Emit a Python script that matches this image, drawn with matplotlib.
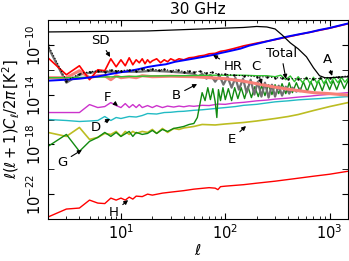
import numpy as np
import matplotlib
matplotlib.use("Agg")
import matplotlib.pyplot as plt
from matplotlib.ticker import FixedLocator, NullFormatter, LogFormatterMathtext, LogLocator

# multipoles and log10 of l(l+1)C_l/2pi [K^2]
cmb_ell = [2, 6, 18, 60, 150, 200, 250, 300, 350, 420, 500, 600, 700, 800, 900, 1000, 1500]
cmb_log = [-8.96, -8.92, -8.88, -8.72, -8.6, -8.52, -8.56, -8.72, -9.2, -9.84, -10.32,
           -10.96, -11.84, -12.48, -12.64, -12.64, -12.56]

hr_ell = [2, 3, 4, 5, 6, 8, 10, 12, 15, 18, 22, 27, 33, 40, 50, 60, 75, 90, 110, 140,
          170, 200, 250, 300, 400, 500, 650, 800, 1000, 1250, 1500]
hr_log = [-12.88, -12.8, -12.72, -12.62, -12.54, -12.34, -12.2, -12.1, -11.94, -11.78,
          -11.66, -11.56, -11.36, -11.24, -11.1, -10.98, -10.82, -10.66, -10.5, -10.3,
          -10.06, -9.92, -9.72, -9.56, -9.32, -9.16, -8.98, -8.8, -8.64, -8.44, -8.28]

sd_ell = [2, 3, 4, 5, 6, 7, 8, 9, 10, 11, 12, 13, 14, 15, 16, 17, 18, 19, 20, 22, 24, 26,
          28, 30, 33, 36, 40, 45, 50, 56, 63, 70, 80, 90, 100, 120, 150, 200, 300, 500,
          1000, 1500]
sd_log = [-11.04, -12.4, -11.68, -12.8, -12.0, -12.08, -11.12, -11.76, -11.2, -11.68,
          -11.04, -11.6, -11.2, -11.44, -11.12, -11.52, -11.2, -11.44, -11.28, -11.12,
          -11.44, -11.2, -11.36, -11.12, -11.28, -11.12, -11.2, -11.04, -11.0, -10.9,
          -10.84, -10.72, -10.68, -10.52, -10.46, -10.3, -10.08, -9.86, -9.58, -9.18,
          -8.66, -8.3]

total_ell = [2, 3, 4, 5, 6, 7, 8, 9, 10, 12, 14, 16, 18, 20, 23, 26, 30, 35, 40, 45, 50,
             57, 65, 75, 85, 100, 120, 150, 200, 250, 300, 350, 400, 500, 600, 700, 800,
             1000, 1200, 1500]
total_log = [-10.0, -12.88, -12.32, -12.16, -12.08, -12.16, -12.0, -12.08, -12.08, -12.0,
             -12.08, -11.92, -12.0, -11.92, -12.04, -11.96, -12.08, -12.0, -12.16, -12.08,
             -12.2, -12.12, -12.28, -12.2, -12.36, -12.36, -12.44, -12.48, -12.56, -12.58,
             -12.64, -12.66, -12.72, -12.72, -12.7, -12.72, -12.7, -12.64, -12.58, -12.5]

c_ell = [2, 3, 5, 10, 20, 40, 70, 100, 150, 200, 250, 300, 340, 380, 420, 460, 500, 550,
         600, 650, 700, 760, 820, 880, 950, 1020, 1100, 1200, 1300, 1400, 1500]
c_log = [-12.64, -12.64, -12.6, -12.56, -12.5, -12.48, -12.44, -12.44, -12.44, -12.48,
         -12.48, -12.56, -12.44, -12.8, -12.5, -12.96, -12.56, -13.04, -12.6, -13.12,
         -12.6, -13.12, -12.62, -13.12, -12.62, -13.1, -12.6, -13.04, -12.6, -13.0, -12.7]

a_ell = [2, 3, 4, 5, 6, 7, 8, 9, 10, 12, 14, 16, 20, 30, 50, 100, 150, 200, 300, 400,
         500, 700, 1000, 1500]
a_log = [-12.64, -12.64, -12.08, -12.64, -12.48, -12.48, -12.8, -12.48, -12.64, -12.56,
         -12.64, -12.48, -12.56, -12.52, -12.56, -12.72, -12.92, -13.12, -13.4, -13.56,
         -13.68, -13.84, -13.92, -14.04]

b_ell = [2, 3, 4, 5, 6, 8, 10, 15, 20, 30, 40, 50, 55, 60, 66, 72, 80, 88, 96, 105, 115,
         125, 135, 148, 160, 175, 190, 205, 222, 240, 260, 280, 300, 325, 350, 380, 410,
         440, 480, 520]
b_log = [-10.16, -13.04, -12.4, -12.24, -12.16, -12.16, -12.16, -12.16, -12.08, -12.16,
         -12.24, -12.32, -12.56, -12.32, -12.72, -12.4, -12.96, -12.48, -13.2, -12.56,
         -13.44, -12.64, -13.6, -12.72, -13.84, -12.8, -14.0, -12.96, -14.16, -13.04,
         -14.24, -13.2, -14.16, -13.28, -14.08, -13.36, -13.92, -13.44, -13.76, -13.52]

g_ell = [2, 3, 4, 5, 6, 7, 8, 9, 10, 12, 13, 14, 16, 18, 20, 22, 25, 28, 32, 36, 40, 45,
         50, 54, 57, 60, 64, 68, 72, 76, 80, 83, 86, 90, 95, 100, 107, 115, 123, 132, 142,
         153, 165, 178, 192, 207, 223, 240, 260, 280, 300, 325, 350, 380, 410, 440, 480,
         520, 560, 610, 660, 720, 780, 850, 920, 1000, 1080, 1170, 1270, 1380, 1500]
g_log = [-18.16, -17.2, -18.56, -17.76, -17.44, -17.04, -17.36, -17.04, -17.36, -16.96,
         -17.36, -17.04, -17.2, -17.12, -16.88, -17.12, -16.8, -16.96, -16.72, -16.64,
         -16.56, -16.4, -16.32, -15.84, -14.8, -13.84, -14.48, -13.44, -14.4, -13.52,
         -14.56, -15.84, -13.6, -14.48, -13.44, -14.4, -13.52, -14.48, -13.44, -14.32,
         -13.44, -14.32, -13.36, -14.24, -13.36, -14.16, -13.28, -14.08, -13.2, -14.0,
         -13.2, -13.92, -13.12, -13.92, -13.04, -13.84, -13.04, -13.76, -12.96, -13.76,
         -12.96, -13.68, -12.88, -13.68, -12.88, -13.6, -12.88, -13.6, -12.8, -13.52,
         -12.88]

f_ell = [2, 3, 4, 5, 6, 7, 8, 9, 10, 11, 12, 13, 14, 15, 16, 18, 20, 22, 25, 28, 32, 36,
         40, 45, 50, 60, 70, 85, 100, 120, 150, 200, 250, 300, 400, 500, 650, 800, 1000,
         1250, 1500]
f_log = [-15.44, -15.44, -15.44, -14.8, -15.04, -14.96, -14.64, -14.88, -15.04, -14.72,
         -15.04, -14.8, -15.04, -14.8, -15.04, -14.88, -15.04, -14.88, -15.04, -14.92,
         -15.0, -14.92, -14.98, -14.9, -14.94, -14.86, -14.88, -14.76, -14.78, -14.68,
         -14.62, -14.5, -14.44, -14.36, -14.28, -14.2, -14.12, -14.04, -13.98, -13.9,
         -13.84]

d_ell = [2, 3, 4, 5, 6, 7, 8, 9, 10, 12, 14, 16, 18, 22, 26, 30, 35, 40, 50, 60, 75, 100,
         125, 150, 200, 300, 400, 500, 650, 800, 1000, 1250, 1500]
d_log = [-16.0, -16.08, -16.16, -16.12, -16.08, -15.76, -16.08, -15.84, -15.92, -15.76,
         -15.8, -15.68, -15.52, -15.56, -15.44, -15.42, -15.36, -15.34, -15.26, -15.22,
         -15.14, -15.04, -14.96, -14.86, -14.78, -14.58, -14.5, -14.42, -14.36, -14.32,
         -14.26, -14.2, -14.16]

e_ell = [2, 3, 4, 5, 6, 7, 8, 9, 10, 11, 12, 13, 14, 16, 18, 20, 22, 25, 28, 32, 36, 40,
         50, 60, 80, 100, 150, 200, 300, 400, 500, 700, 1000, 1500]
e_log = [-17.04, -17.36, -16.64, -17.6, -17.44, -17.12, -17.2, -16.96, -17.36, -16.96,
         -17.2, -16.96, -17.12, -16.96, -17.04, -16.8, -17.12, -16.72, -17.04, -16.72,
         -16.8, -16.68, -16.56, -16.4, -16.44, -16.36, -16.24, -16.12, -15.92, -15.76,
         -15.6, -15.28, -14.96, -14.64]

h_ell = [2, 3, 4, 5, 6, 7, 8, 9, 10, 11, 12, 13, 14, 16, 18, 20, 25, 30, 40, 50, 70, 80,
         85, 90, 100, 150, 200, 300, 500, 700, 1000, 1500]
h_log = [-23.84, -23.2, -23.12, -22.48, -22.72, -22.76, -22.32, -22.48, -22.32, -22.48,
         -22.24, -22.4, -22.16, -22.2, -22.0, -22.08, -21.92, -21.84, -21.72, -21.6,
         -21.48, -21.52, -21.64, -21.4, -21.36, -21.24, -21.12, -20.96, -20.72, -20.56,
         -20.4, -20.16]

# label, text position, arrow tip (axes fraction)
labels = [
    ("SD", (0.173, 0.899), (0.207, 0.814)),
    ("HR", (0.617, 0.764), (0.550, 0.824)),
    ("C", (0.693, 0.764), (0.713, 0.678)),
    ("Total", (0.777, 0.834), (0.793, 0.704)),
    ("A", (0.930, 0.799), (0.947, 0.719)),
    ("B", (0.427, 0.623), (0.497, 0.678)),
    ("F", (0.197, 0.613), (0.233, 0.568)),
    ("D", (0.160, 0.462), (0.207, 0.503)),
    ("G", (0.047, 0.286), (0.113, 0.347)),
    ("E", (0.613, 0.402), (0.660, 0.467)),
    ("H", (0.220, 0.035), (0.267, 0.095)),
]


def cl(v):
    return np.power(10.0, np.array(v))


fig = plt.figure(figsize=(3.49, 2.61), dpi=100)
ax = fig.add_axes([48 / 349, 1 - 219 / 261, 300 / 349, 199 / 261])

ax.plot(h_ell, cl(h_log), color='red', lw=1.0)
ax.plot(e_ell, cl(e_log), color='#bcbd22', lw=1.2)
ax.plot(d_ell, cl(d_log), color='#22bbc4', lw=1.0)
ax.plot(f_ell, cl(f_log), color='#cc33cc', lw=1.0)
ax.plot(g_ell, cl(g_log), color='#118a11', lw=1.0)
ax.plot(b_ell, cl(b_log), color='#707070', lw=1.6)
ax.plot(a_ell, cl(a_log), color='#f88078', lw=2.2)
ax.plot(c_ell, cl(c_log), color='#2ec42e', lw=1.0)
ax.plot(sd_ell, cl(sd_log), color='red', lw=1.2)
ax.plot(hr_ell, cl(hr_log), color='blue', lw=1.4)
ax.plot(total_ell, cl(total_log), color='k', lw=0.8, ls=':', marker='.', ms=1.5)
ax.plot(cmb_ell, cl(cmb_log), color='k', lw=0.9)

ax.set_xscale('log')
ax.set_yscale('log')
ax.set_xlim(2, 1500)
ax.set_ylim(1e-24, 1e-8)

ax.yaxis.set_major_locator(FixedLocator([1e-22, 1e-18, 1e-14, 1e-10]))
ax.yaxis.set_major_formatter(LogFormatterMathtext())
ax.yaxis.set_minor_locator(FixedLocator([1e-24, 1e-20, 1e-16, 1e-12, 1e-8]))
ax.yaxis.set_minor_formatter(NullFormatter())
ax.xaxis.set_major_locator(LogLocator(base=10))
ax.xaxis.set_minor_locator(LogLocator(base=10, subs=np.arange(2, 10)))
ax.xaxis.set_minor_formatter(NullFormatter())

ax.tick_params(which='both', direction='in', top=True, right=True, labelsize=10.5, pad=3)
ax.tick_params(axis='y', which='both', length=4, labelrotation=90)
ax.tick_params(axis='x', which='major', length=4)
ax.tick_params(axis='x', which='minor', length=2)
for t in ax.get_yticklabels():
    t.set_va('center')

ax.set_title('30 GHz', fontsize=11, pad=4)
ax.set_xlabel(r'$\ell$', fontsize=11, labelpad=1)
ax.set_ylabel(r'$\ell(\ell+1)C_\ell/2\pi\,[\mathrm{K}^2]$', fontsize=10.5, labelpad=2)

for name, txt, tip in labels:
    ax.annotate(name, xy=tip, xytext=txt, xycoords='axes fraction',
                textcoords='axes fraction', ha='center', va='center', fontsize=9.5,
                arrowprops=dict(arrowstyle='-|>', color='k', lw=0.8,
                                mutation_scale=6, shrinkA=1, shrinkB=0))

fig.savefig('out.png', dpi=100)
